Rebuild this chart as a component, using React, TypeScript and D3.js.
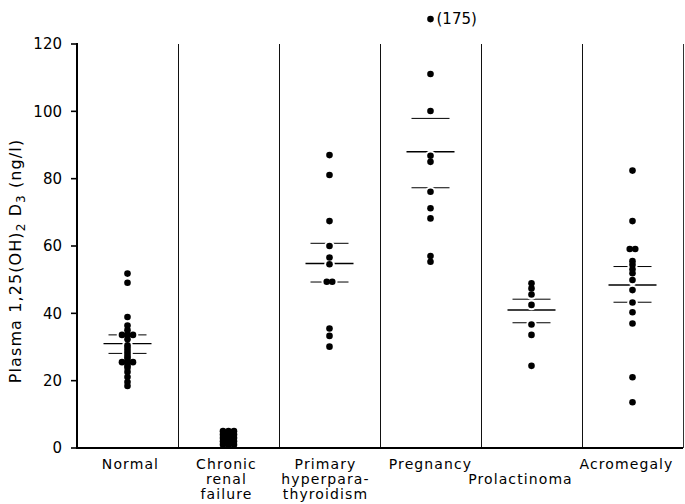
import React from "react";
import * as d3 from "d3";

const CATEGORIES = ["Normal", "Chronic renal failure", "Primary hyperparathyroidism", "Pregnancy", "Prolactinoma", "Acromegaly"];
const LABEL_LINES = [["Normal"], ["Chronic", "renal", "failure"], ["Primary", "hyperpara-", "thyroidism"], ["Pregnancy"], ["", "Prolactinoma"], ["Acromegaly"]];

const NORMAL = [51.8, 49.1, 38.9, 36.4, 35.0, 33.6, 33.6, 33.6, 32.3, 30.5, 29.7, 28.8, 28.0, 27.2, 26.5, 25.5, 25.5, 25.5, 24.5, 23.8, 22.6, 21.1, 19.6, 18.4];
const CHRONIC = [5.0, 5.0, 5.0, 4.0, 4.0, 4.0, 3.0, 3.0, 3.0, 2.0, 2.0, 2.0, 1.0, 1.0, 1.0];
const PRIMARY = [87.0, 81.1, 67.4, 60.0, 56.6, 54.6, 49.4, 49.4, 35.5, 33.3, 30.1];
const PREGNANCY = [175, 111.1, 100.1, 86.8, 85.0, 76.1, 71.2, 68.2, 57.0, 55.3];
const PROLACTINOMA = [48.9, 47.4, 45.6, 42.5, 36.7, 33.6, 24.4];
const ACROMEGALY = [82.4, 67.4, 59.1, 59.1, 55.5, 54.4, 53.1, 51.9, 49.9, 46.9, 43.2, 40.3, 37.0, 21.0, 13.6];
const SERIES = [NORMAL, CHRONIC, PRIMARY, PREGNANCY, PROLACTINOMA, ACROMEGALY];

const MEANS = [31.0, null, 54.8, 88.0, 41.0, 48.4];
const SEM_UPPER = [33.6, null, 60.8, 97.9, 44.2, 53.9];
const SEM_LOWER = [28.1, null, 49.3, 77.3, 37.2, 43.3];

const Y_TICKS = [0, 20, 40, 60, 80, 100, 120];
const Y_MAX = 120;
const OUTLIER_DISPLAY = 127.4; // off-scale values drawn above the axis with their value in brackets

const W = 685, H = 504;
const M = { left: 77, right: 683, top: 44, bottom: 448 };
const FONT = "DejaVu Sans";
const R = 3.3;
const DODGE = 5.5;
const LABEL_DX = [3, -2, -4, 0, -11, -6];

function layoutDots(values: number[], cx: number, y: (v: number) => number) {
  const sorted = [...values].sort((a, b) => b - a);
  const groups: number[][] = [];
  sorted.forEach((v) => {
    const g = groups[groups.length - 1];
    if (g && Math.abs(g[0] - v) < 0.05) g.push(v);
    else groups.push([v]);
  });
  const pts: { x: number; y: number; v: number; off: boolean }[] = [];
  groups.forEach((g) => {
    g.forEach((v, i) => {
      const off = v > Y_MAX;
      pts.push({ x: cx + (i - (g.length - 1) / 2) * DODGE, y: y(off ? OUTLIER_DISPLAY : v), v, off });
    });
  });
  return pts;
}

export default function App() {
  const y = d3.scaleLinear().domain([0, Y_MAX]).range([M.bottom, M.top]);
  const x = d3.scaleBand().domain(CATEGORIES).range([M.left, M.right]).paddingInner(0).paddingOuter(0);
  const bw = x.bandwidth();

  const allPts = SERIES.map((s, i) => layoutDots(s, (x(CATEGORIES[i]) as number) + bw / 2, (v) => y(v)));

  return (
    <svg width={W} height={H} style={{ position: "absolute", left: 0, top: 0, background: "#fff" }} fontFamily={FONT}>
      <rect x={0} y={0} width={W} height={H} fill="#fff" />
      {/* separators */}
      {CATEGORIES.map((c, i) =>
        i > 0 ? (
          <line key={c} x1={Math.round(x(c) as number) + 0.5} x2={Math.round(x(c) as number) + 0.5} y1={M.top} y2={M.bottom} stroke="#111" strokeWidth={1} />
        ) : null
      )}
      <line x1={M.right + 0.5} x2={M.right + 0.5} y1={M.top} y2={M.bottom} stroke="#333" strokeWidth={1} />
      {/* mean & SEM lines */}
      {CATEGORIES.map((c, i) => {
        const cx = (x(c) as number) + bw / 2;
        const items = [];
        if (MEANS[i] != null)
          items.push(<line key="m" x1={cx - 24} x2={cx + 24} y1={y(MEANS[i] as number)} y2={y(MEANS[i] as number)} stroke="#000" strokeWidth={1.4} />);
        if (SEM_UPPER[i] != null)
          items.push(<line key="u" x1={cx - 19} x2={cx + 19} y1={y(SEM_UPPER[i] as number)} y2={y(SEM_UPPER[i] as number)} stroke="#000" strokeWidth={1} />);
        if (SEM_LOWER[i] != null)
          items.push(<line key="l" x1={cx - 19} x2={cx + 19} y1={y(SEM_LOWER[i] as number)} y2={y(SEM_LOWER[i] as number)} stroke="#000" strokeWidth={1} />);
        return <g key={c}>{items}</g>;
      })}
      {/* halos */}
      {allPts.map((pts, i) => (
        <g key={"h" + i}>
          {pts.map((p, j) => (
            <circle key={j} cx={p.x} cy={p.y} r={R + 2} fill="#fff" />
          ))}
        </g>
      ))}
      {/* dots */}
      {allPts.map((pts, i) => (
        <g key={"d" + i}>
          {pts.map((p, j) => (
            <g key={j}>
              <circle cx={p.x} cy={p.y} r={R} fill="#000" />
              {p.off ? (
                <text x={p.x + 6} y={p.y} dy="0.35em" fontSize={15} fill="#000">
                  ({p.v})
                </text>
              ) : null}
            </g>
          ))}
        </g>
      ))}
      {/* axes */}
      <line x1={M.left} x2={M.left} y1={M.top - 1} y2={M.bottom + 1} stroke="#000" strokeWidth={2} />
      <line x1={M.left - 1} x2={M.right} y1={M.bottom} y2={M.bottom} stroke="#000" strokeWidth={2} />
      {Y_TICKS.map((t) => (
        <g key={t}>
          <line x1={M.left - 6} x2={M.left} y1={y(t)} y2={y(t)} stroke="#000" strokeWidth={1.6} />
          <text x={M.left - 15} y={y(t)} dy="0.36em" textAnchor="end" fontSize={15} fill="#000">
            {t}
          </text>
        </g>
      ))}
      {/* category labels */}
      {CATEGORIES.map((c, i) => (
        <text key={c} textAnchor="middle" fontSize={14} fill="#000" letterSpacing={1.1}>
          {LABEL_LINES[i].map((ln, k) => (
            <tspan key={k} x={(x(c) as number) + bw / 2 + LABEL_DX[i]} y={M.bottom + 21 + k * 15}>
              {ln}
            </tspan>
          ))}
        </text>
      ))}
      {/* y label */}
      <text transform={`translate(21, 261) rotate(-90)`} textAnchor="middle" fontSize={16} letterSpacing={1.1} fill="#000">
        Plasma 1,25(OH)
        <tspan dy={4} fontSize={12}>2</tspan>
        <tspan dy={-4}> D</tspan>
        <tspan dy={4} fontSize={12}>3</tspan>
        <tspan dy={-4}> (ng/l)</tspan>
      </text>
    </svg>
  );
}
